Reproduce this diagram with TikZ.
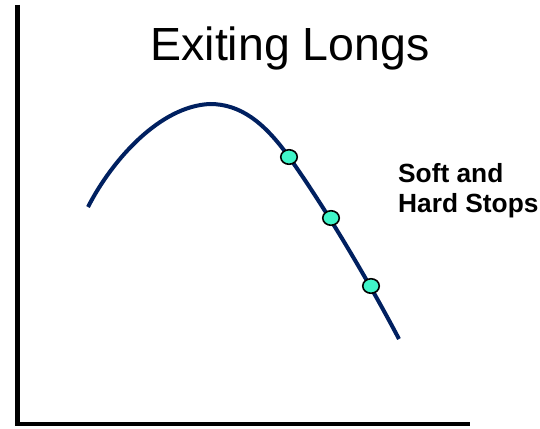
\documentclass[tikz,border=0pt]{standalone}
\usepackage{fontspec}
\setmainfont{Liberation Sans}
\usetikzlibrary{shapes.geometric}
\definecolor{curvenavy}{HTML}{002060}
\definecolor{dotcyan}{HTML}{40F5C8}
\tikzset{
  axisline/.style={line width=4.5pt, black},
  curveline/.style={line width=4pt, curvenavy},
  stopdot/.style={ellipse, draw=black, line width=1.6pt, fill=dotcyan, minimum width=16.5pt, minimum height=14.5pt, inner sep=0pt},
  titletext/.style={anchor=base, inner sep=0pt, font=\fontsize{46.5}{50}\selectfont},
  labeltext/.style={anchor=base west, inner sep=0pt, font=\bfseries\fontsize{26.3}{30}\selectfont}
}
\begin{document}
\begin{tikzpicture}[x=1pt,y=-1pt]
\useasboundingbox (0,0) rectangle (540,428);
\fill[white] (0,0) rectangle (540,428);
% axes
\coordinate (ytop) at (17.5,5);
\coordinate (origin) at (17.5,424);
\coordinate (xend) at (470,424);
\draw[axisline] (ytop) -- (origin) -- (xend);
% curve
\coordinate (cstart) at (88,207);
\coordinate (cpeak) at (210,104);
\coordinate (cmid) at (289,157);
\coordinate (cend) at (399,339);
\draw[curveline] (cstart) .. controls (112,160) and (160,106) .. (cpeak)
  .. controls (240,104) and (264,122) .. (cmid)
  .. controls (326,209) and (369,282) .. (cend);
% dots
\node[stopdot] (d1) at (289,157) {};
\node[stopdot] (d2) at (331,218) {};
\node[stopdot] (d3) at (371,286) {};
% texts
\node[titletext] (title) at (290,60) {Exiting Longs};
\node[labeltext] (soft) at (398,182) {Soft and};
\node[labeltext] (hard) at (398,212) {Hard Stops};
\end{tikzpicture}
\end{document}
